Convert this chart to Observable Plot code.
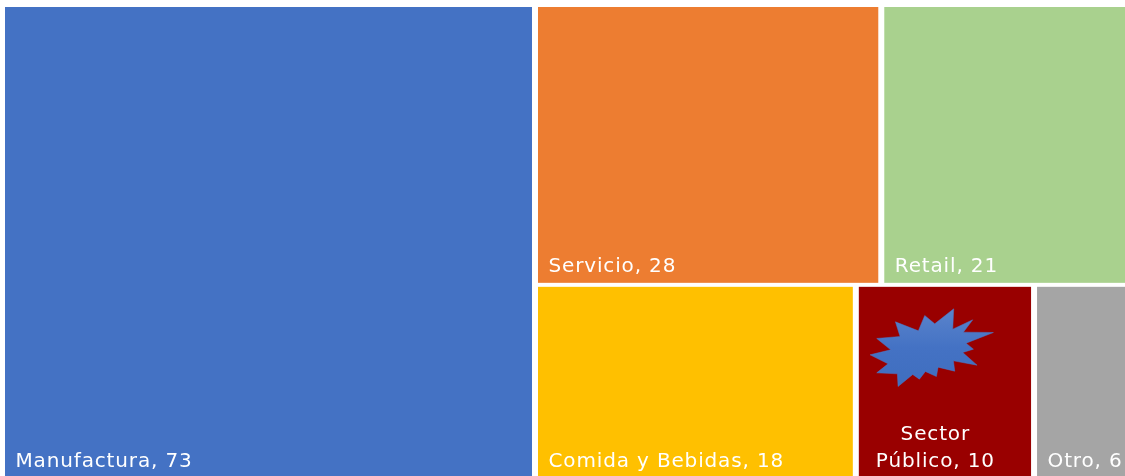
<!DOCTYPE html>
<html>
<head>
<meta charset="utf-8">
<script src="https://cdn.jsdelivr.net/npm/d3@7"></script>
<script src="https://cdn.jsdelivr.net/npm/@observablehq/plot@0.6"></script>
<style>
html,body{margin:0;padding:0;background:#fff;overflow:hidden}
svg{display:block;overflow:hidden}
svg > g{filter:blur(0.5px)}
svg text{letter-spacing:0.85px}
</style>
</head>
<body>
<div id="chart"></div>
<script>
const categories = ["Manufactura","Servicio","Retail","Comida y Bebidas","Sector Público","Otro"];
const values = [73,28,21,18,10,6];
const labels = ["Manufactura, 73","Servicio, 28","Retail, 21","Comida y Bebidas, 18","Sector\nPúblico, 10","Otro, 6"];
const colors = ["#4472C4","#ED7D31","#A9D18E","#FFC000","#990000","#A5A5A5"];
const rows = [[1,2],[3,4,5]];
const leaf = i => ({name:categories[i],value:values[i],label:labels[i]});
const root = d3.hierarchy({children:[leaf(0),{children:rows.map(r=>({children:r.map(leaf)}))}]}).sum(d=>d.value||0);
d3.treemap().tile(d3.treemapSliceDice).size([1,1])(root);
const cells = root.leaves().map(n=>({...n.data,x0:n.x0,x1:n.x1,y0:n.y0,y1:n.y1}));
const plain = cells.filter(d=>d.name!=="Sector Público");
const sector = cells.filter(d=>d.name==="Sector Público");
// Star callout outline (shape offsets), anchored inside the Sector Público cell
const starOutline = [[313,87],[310,148],[370,120],[342,157],[432,158],[350,190],[372,208],[340,218],[383,256],[312,243],[316,274],[266,262],[261,290],[228,275],[210,298],[190,284],[146,320],[144,282],[82,279],[116,252],[62,225],[124,210],[82,176],[152,170],[138,126],[207,153],[226,107],[256,132]];
const starSymbol = {draw(ctx){
  starOutline.forEach(([a,b],i)=>{const px=(a-240)/3,py=(b-200)/3; i?ctx.lineTo(px,py):ctx.moveTo(px,py);});
  ctx.closePath();
}};
const font = '"DejaVu Sans", sans-serif';
const chart = Plot.plot({
  width:1125,height:476,margin:0,
  x:{domain:[0,1],range:[2,1141],axis:null},
  y:{domain:[0,1],range:[5,479],axis:null},
  color:{domain:categories,range:colors},
  style:{background:"#fff"},
  marks:[
    () => {
      const defs = d3.create("svg:defs");
      const g = defs.append("linearGradient").attr("id","starFill").attr("x1",0).attr("y1",0).attr("x2",0).attr("y2",1);
      g.append("stop").attr("offset","0%").attr("stop-color","#5a84cc");
      g.append("stop").attr("offset","50%").attr("stop-color","#4472C4");
      g.append("stop").attr("offset","100%").attr("stop-color","#3f6ebf");
      return defs.node();
    },
    Plot.rect(cells,{x1:"x0",x2:"x1",y1:"y0",y2:"y1",fill:"name",insetLeft:3,insetRight:3,insetTop:2,insetBottom:2}),
    Plot.text(plain,{x:"x0",y:"y1",text:"label",fill:"#fff",fontSize:20,fontFamily:font,textAnchor:"start",lineAnchor:"bottom",dx:13,dy:-13}),
    Plot.text(sector,{x:"x0",y:"y1",text:"label",fill:"#fff",fontSize:20,fontFamily:font,textAnchor:"middle",lineAnchor:"bottom",dx:79,dy:-13,lineHeight:1.35}),
    Plot.dot(sector,{x:d=>d.x0+0.41*(d.x1-d.x0),y:d=>d.y0+0.315*(d.y1-d.y0),symbol:()=>starSymbol,r:10,fill:"url(#starFill)",stroke:"#4a78c8",strokeWidth:0.5})
  ]
});
document.getElementById("chart").append(chart);
</script>
</body>
</html>
